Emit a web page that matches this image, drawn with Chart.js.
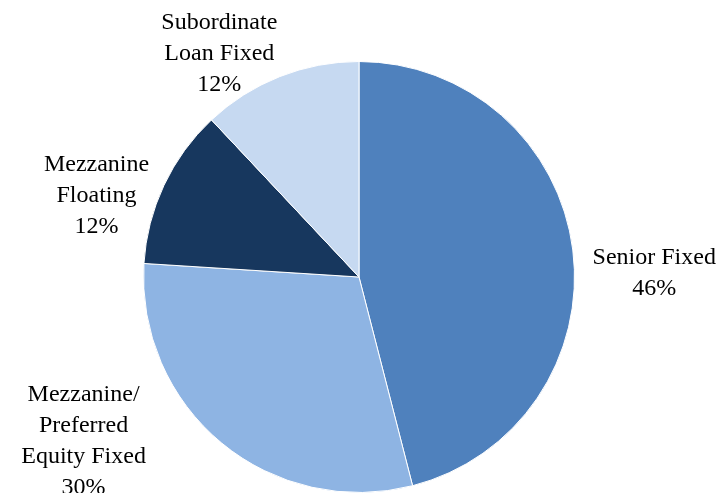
<!DOCTYPE html>
<html lang="en">
<head>
    <meta charset="UTF-8">
    <title>Loan Mix Pie</title>
    <script src="https://cdn.jsdelivr.net/npm/chart.js"></script>
    <style>
        body { margin: 0; background: #fff; }
        #wrap { width: 724px; height: 493px; }
    </style>
</head>
<body>
    <div id="wrap"><canvas id="myChart"></canvas></div>
    <script>
        // slice names (one array entry per label line) and shares in %
        const labels = [
            ['Senior Fixed'],
            ['Mezzanine/', 'Preferred', 'Equity Fixed'],
            ['Mezzanine', 'Floating'],
            ['Subordinate', 'Loan Fixed']
        ];
        const values = [46, 30, 12, 12];
        const colors = ['#4F81BD', '#8EB4E3', '#17375E', '#C6D9F1'];

        // where each label sits, in units of the pie radius from its centre
        const labelAnchors = [[1.37, -0.016], [-1.278, 0.764], [-1.218, -0.375], [-0.648, -1.037]];

        const outsideLabels = {
            id: 'outsideLabels',
            afterDraw(chart) {
                const ctx = chart.ctx;
                const arcs = chart.getDatasetMeta(0).data;
                ctx.save();
                ctx.font = '24px "Liberation Serif", "Times New Roman", serif';
                ctx.fillStyle = '#000';
                ctx.textAlign = 'center';
                ctx.textBaseline = 'middle';
                arcs.forEach((arc, i) => {
                    const lines = labels[i].concat([values[i] + '%']);
                    const cx = arc.x + labelAnchors[i][0] * arc.outerRadius;
                    const cy = arc.y + labelAnchors[i][1] * arc.outerRadius;
                    const lh = 31;
                    const top = cy - (lines.length - 1) * lh / 2;
                    lines.forEach((t, k) => ctx.fillText(t, cx, top + k * lh));
                });
                ctx.restore();
            }
        };

        const ctx = document.getElementById('myChart').getContext('2d');
        new Chart(ctx, {
            type: 'pie',
            data: {
                labels: labels.map(l => l.join(' ')),
                datasets: [{
                    data: values,
                    backgroundColor: colors,
                    borderColor: '#fff',
                    borderWidth: 1
                }]
            },
            options: {
                responsive: true,
                maintainAspectRatio: false,
                animation: false,
                layout: { padding: { top: 61, bottom: 0, left: 0, right: 6 } },
                plugins: {
                    legend: { display: false },
                    tooltip: { enabled: false }
                }
            },
            plugins: [outsideLabels]
        });
    </script>
</body>
</html>
